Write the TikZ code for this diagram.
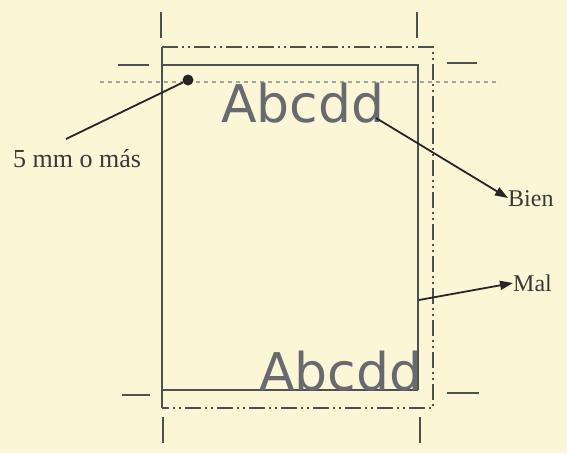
\documentclass[tikz,border=0pt]{standalone}
\usepackage{fontspec}
\setmainfont{Liberation Serif}
\newfontfamily\abcfont{DejaVu Sans}
\usetikzlibrary{arrows.meta}
\definecolor{bgyellow}{RGB}{251,247,214}
\definecolor{linegray}{RGB}{80,80,80}
\definecolor{textgray}{RGB}{105,105,112}
\definecolor{dotgray}{RGB}{165,165,160}
\tikzset{
  frame/.style={draw=linegray, line width=1.5pt},
  dashdot/.style={draw=linegray, line width=1.5pt, dash pattern=on 16pt off 4pt on 2pt off 4pt on 2pt off 4pt},
  cropmark/.style={draw=linegray, line width=2.2pt},
  guide/.style={draw=dotgray, line width=1.2pt, dash pattern=on 4pt off 4pt},
  pointer/.style={draw=black!85, line width=1.8pt},
  arrowline/.style={pointer, -{Triangle[length=13pt,width=9pt]}},
  label/.style={font=\fontsize{24}{24}\selectfont, text=black!78, inner sep=0pt},
  sample/.style={font=\abcfont\fontsize{52}{52}\selectfont, text=textgray, inner sep=0pt},
}
\begin{document}
\begin{tikzpicture}[x=1pt,y=-1pt]
\fill[bgyellow] (0,0) rectangle (567,453);
\useasboundingbox (0,0) rectangle (567,453);
% guide dotted line
\draw[guide] (100,82) -- (500,82);
% dash-dot outer frame
\draw[dashdot] (162,47) -- (433,47) -- (433,408) -- (162,408);
% solid inner frame
\draw[frame] (162,47) -- (162,408);
\draw[frame] (162,65) -- (418,65) -- (418,390);
\draw[frame] (162,390) -- (418,390);
% crop marks
\draw[cropmark] (161,12) -- (161,38);
\draw[cropmark] (417,12) -- (417,38);
\draw[cropmark] (118,65) -- (149,65);
\draw[cropmark] (447,63) -- (477,63);
\draw[cropmark] (122,395) -- (150,395);
\draw[cropmark] (447,393) -- (479,393);
\draw[cropmark] (163,417) -- (163,443);
\draw[cropmark] (420,417) -- (420,443);
% sample texts
\node[sample, anchor=base west] (top) at (221,122) {Abcdd};
\node[sample, anchor=base west] (bottom) at (259,390) {Abcdd};
% dot and labels
\node[circle, fill=black!85, inner sep=0pt, minimum size=11pt] (dot) at (188,80) {};
\node[label, font=\fontsize{26}{26}\selectfont, anchor=base west] (five) at (13,167) {5 mm o más};
\node[label, anchor=base west] (bien) at (508,206) {Bien};
\node[label, anchor=base west] (mal) at (513,291) {Mal};
\coordinate (dotend) at (66,139);
\coordinate (bienstart) at (376,118);
\coordinate (malstart) at (419,300);
\draw[pointer] (dot) -- (dotend);
\draw[arrowline] (bienstart) -- (bien.west |- 0,198);
\draw[arrowline] (malstart) -- (mal.west |- 0,283);
\end{tikzpicture}
\end{document}
